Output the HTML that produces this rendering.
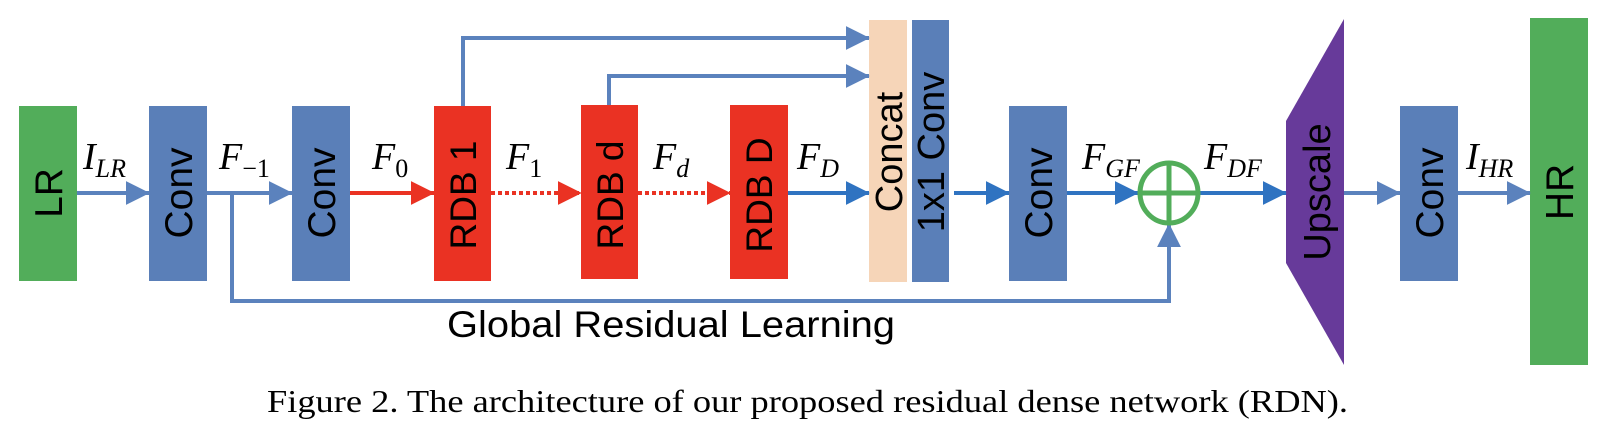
<!DOCTYPE html>
<html><head><meta charset="utf-8"><style>html,body{margin:0;padding:0;background:#fff}svg{display:block}</style></head>
<body>
<svg width="1606" height="440" viewBox="0 0 1606 440" xmlns="http://www.w3.org/2000/svg">
<defs>
<marker id="ab" markerWidth="6" markerHeight="6" refX="5.8" refY="3" orient="auto" markerUnits="strokeWidth"><path d="M0,0 L6,3 L0,6 Z" fill="#5b82bd"/></marker>
<marker id="ad" markerWidth="6" markerHeight="6" refX="5.8" refY="3" orient="auto" markerUnits="strokeWidth"><path d="M0,0 L6,3 L0,6 Z" fill="#2f73c1"/></marker>
<marker id="ar" markerWidth="6" markerHeight="6" refX="5.8" refY="3" orient="auto" markerUnits="strokeWidth"><path d="M0,0 L6,3 L0,6 Z" fill="#ea3223"/></marker>
</defs>
<g font-family="Liberation Sans, sans-serif">
<!-- boxes -->
<rect x="19" y="106" width="58" height="175" fill="#52ad5a"/>
<rect x="149" y="106" width="58" height="175" fill="#5a7fb8"/>
<rect x="292" y="106" width="58" height="175" fill="#5a7fb8"/>
<rect x="434" y="106" width="57" height="175" fill="#ea3223"/>
<rect x="581" y="105" width="57" height="174" fill="#ea3223"/>
<rect x="730" y="105" width="58" height="174" fill="#ea3223"/>
<rect x="869" y="20" width="38" height="262" fill="#f6d5b8"/>
<rect x="912" y="20" width="37" height="262" fill="#5a7fb8"/>
<rect x="1009" y="106" width="58" height="175" fill="#5a7fb8"/>
<polygon points="1286,121 1344,19 1344,365 1286,263" fill="#673a9a"/>
<rect x="1400" y="106" width="58" height="175" fill="#5a7fb8"/>
<rect x="1530" y="18" width="58" height="347" fill="#52ad5a"/>
<!-- box texts -->
<g font-size="39" fill="#000" text-anchor="middle">
<text transform="translate(62,193) rotate(-90)">LR</text>
<text transform="translate(192,193) rotate(-90)">Conv</text>
<text transform="translate(335,193) rotate(-90)">Conv</text>
<text transform="translate(476,195) rotate(-90)" font-size="37">RDB 1</text>
<text transform="translate(623,195) rotate(-90)" font-size="37">RDB d</text>
<text transform="translate(772,195) rotate(-90)" font-size="37">RDB D</text>
<text transform="translate(902,152) rotate(-90)" font-size="38">Concat</text>
<text transform="translate(944,152) rotate(-90)" font-size="38">1x1 Conv</text>
<text transform="translate(1052,193) rotate(-90)">Conv</text>
<text transform="translate(1330,192) rotate(-90)" font-size="38">Upscale</text>
<text transform="translate(1443,193) rotate(-90)">Conv</text>
<text transform="translate(1573,192) rotate(-90)">HR</text>
</g>
<!-- connectors -->
<g fill="none" stroke-width="4">
<line x1="77" y1="193" x2="149" y2="193" stroke="#5b82bd" marker-end="url(#ab)"/>
<line x1="207" y1="193" x2="292" y2="193" stroke="#5b82bd" marker-end="url(#ab)"/>
<polyline points="232,193 232,301 1169,301 1169,224" stroke="#5b82bd" marker-end="url(#ab)"/>
<line x1="350" y1="193" x2="434" y2="193" stroke="#ea3223" marker-end="url(#ar)"/>
<line x1="491" y1="193" x2="581" y2="193" stroke="#ea3223" stroke-dasharray="4,3" marker-end="url(#ar)"/>
<line x1="638" y1="193" x2="730" y2="193" stroke="#ea3223" stroke-dasharray="4,3" marker-end="url(#ar)"/>
<line x1="788" y1="193" x2="869" y2="193" stroke="#2f73c1" marker-end="url(#ad)"/>
<polyline points="463,106 463,38 869,38" stroke="#5b82bd" marker-end="url(#ab)"/>
<polyline points="609,105 609,76 869,76" stroke="#5b82bd" marker-end="url(#ab)"/>
<line x1="954" y1="193" x2="1009" y2="193" stroke="#2f73c1" marker-end="url(#ad)"/>
<line x1="1067" y1="193" x2="1138" y2="193" stroke="#2f73c1" marker-end="url(#ad)"/>
<line x1="1200" y1="193" x2="1286" y2="193" stroke="#2f73c1" marker-end="url(#ad)"/>
<line x1="1344" y1="193" x2="1400" y2="193" stroke="#5b82bd" marker-end="url(#ab)"/>
<line x1="1458" y1="193" x2="1530" y2="193" stroke="#5b82bd" marker-end="url(#ab)"/>
</g>
<!-- adder -->
<ellipse cx="1169" cy="193" rx="29" ry="30" fill="none" stroke="#52ad5a" stroke-width="5"/>
<line x1="1140" y1="193" x2="1198" y2="193" stroke="#52ad5a" stroke-width="5"/>
<line x1="1169" y1="163" x2="1169" y2="223" stroke="#52ad5a" stroke-width="5"/>
<text x="447" y="337" font-size="37" textLength="448" lengthAdjust="spacingAndGlyphs">Global Residual Learning</text>
</g>
<!-- math labels -->
<g font-family="Liberation Serif, serif" font-style="italic" font-size="38" fill="#000">
<text x="83" y="169">I<tspan font-size="26" dy="8">LR</tspan></text>
<text x="219" y="169">F<tspan font-size="26" dy="8" font-style="normal">−1</tspan></text>
<text x="372" y="169">F<tspan font-size="26" dy="8" font-style="normal">0</tspan></text>
<text x="506" y="169">F<tspan font-size="26" dy="8" font-style="normal">1</tspan></text>
<text x="653" y="169">F<tspan font-size="26" dy="8">d</tspan></text>
<text x="797" y="169">F<tspan font-size="26" dy="8">D</tspan></text>
<text x="1082" y="169">F<tspan font-size="26" dy="8">GF</tspan></text>
<text x="1204" y="169">F<tspan font-size="26" dy="8">DF</tspan></text>
<text x="1466" y="169">I<tspan font-size="26" dy="8">HR</tspan></text>
</g>
<text x="267" y="412" font-family="Liberation Serif, serif" font-size="32" textLength="1081" lengthAdjust="spacingAndGlyphs">Figure 2. The architecture of our proposed residual dense network (RDN).</text>
</svg>
</body></html>
